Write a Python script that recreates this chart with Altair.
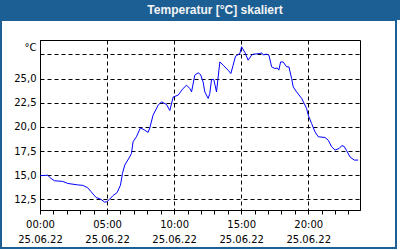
import altair as alt
import pandas as pd

title_text = "Temperatur [°C] skaliert"
unit_text = "°C"
date_text = "25.06.22"

hours = [0.0, 0.57, 0.82, 1.07, 1.69, 2.07, 2.81, 3.19, 3.56, 3.81,
         4.18, 4.55, 4.81, 4.98, 5.18, 5.45, 5.75, 6.0, 6.15, 6.32,
         6.69, 6.82, 6.94, 7.19, 7.49, 7.81, 8.06, 8.19, 8.43, 8.81,
         9.06, 9.43, 9.68, 9.93, 10.3, 10.67, 10.93, 11.17, 11.3, 11.54,
         11.79, 11.97, 12.16, 12.29, 12.54, 12.66, 12.79, 12.96, 13.16, 13.41,
         13.66, 14.03, 14.23, 14.4, 14.58, 14.9, 15.03, 15.28, 15.52, 15.78,
         15.9, 16.4, 16.53, 16.64, 16.9, 17.07, 17.27, 17.51, 17.69, 17.81,
         17.94, 18.13, 18.39, 18.56, 18.76, 18.88, 19.13, 19.51, 19.88, 20.0,
         20.25, 20.5, 20.75, 21.25, 21.49, 21.75, 22.0, 22.31, 22.49, 22.66,
         22.87, 23.11, 23.43, 23.73]
temps = [14.95, 15.0, 14.67, 14.43, 14.36, 14.15, 14.0, 13.95, 13.7, 13.29,
         12.7, 12.5, 12.22, 12.25, 12.5, 12.9, 13.2, 13.98, 15.19, 16.05,
         16.9, 17.26, 18.46, 18.98, 19.91, 19.67, 19.43, 19.91, 21.22, 22.25,
         22.6, 22.33, 21.7, 23.1, 23.29, 23.98, 24.32, 23.98, 23.63, 25.36,
         25.6, 25.43, 24.67, 23.63, 22.95, 23.46, 24.91, 24.91, 23.63, 26.73,
         26.39, 25.87, 25.53, 26.39, 27.32, 27.6, 28.3, 27.7, 26.91, 27.43,
         27.53, 27.6, 27.67, 27.46, 27.53, 27.43, 26.22, 26.05, 26.1, 25.88,
         26.73, 26.73, 26.22, 26.22, 25.02, 24.15, 23.63, 22.95, 21.91, 21.22,
         20.36, 19.5, 18.98, 18.91, 18.63, 17.94, 17.6, 17.78, 18.05, 18.01,
         17.53, 16.9, 16.57, 16.57]

x_label_hours = [0, 5, 10, 15, 20]
x_labels = ["00:00", "05:00", "10:00", "15:00", "20:00"]
x_tick_hours = list(range(0, 24))
y_ticks = [12.5, 15.0, 17.5, 20.0, 22.5, 25.0, 27.5]
y_labeled_max = 25.0
x_domain = [0, 23.86]
y_domain = [11.4, 29.0]

df = pd.DataFrame({"h": hours, "t": temps})
dummy = pd.DataFrame({"a": [0]})

FONT = "DejaVu Sans"
BLUE = "#1c5f95"

# label expression built from tick lists
expr = "''"
for hv, lab in reversed(list(zip(x_label_hours, x_labels))):
    expr = f"datum.value == {hv} ? ['{lab}', '{date_text}'] : ({expr})"

major_test = " || ".join(f"datum.value == {hv}" for hv in x_label_hours)

y_label_expr = (f"datum.value > {y_labeled_max} ? '' : "
                "replace(format(datum.value, '.1f'), '.', ',')")

line = alt.Chart(df).mark_line(color="#0000ff", strokeWidth=1).encode(
    x=alt.X("h:Q", scale=alt.Scale(domain=x_domain, nice=False, zero=False),
            axis=alt.Axis(values=x_tick_hours, title=None, labelExpr=expr,
                          grid=True,
                          gridOpacity={"condition": {"test": major_test, "value": 1}, "value": 0},
                          gridColor="black", gridDash=[4, 3], gridWidth=1,
                          tickSize=4, tickColor="black", domainColor="black",
                          labelFont=FONT, labelFontSize=10, labelColor="black",
                          labelPadding=5, labelLineHeight=15, labelFlush=False,
                          labelOverlap=False)),
    y=alt.Y("t:Q", scale=alt.Scale(domain=y_domain, nice=False, zero=False),
            axis=alt.Axis(values=y_ticks, title=unit_text, titleAngle=0,
                          titleX=-4, titleY=7, titleAlign="right",
                          titleBaseline="middle", titleFont=FONT,
                          titleFontSize=10, titleFontWeight="normal",
                          titleColor="black",
                          labelExpr=y_label_expr, ticks=False,
                          grid=True, gridColor="black", gridDash=[4, 3],
                          gridWidth=1, domainColor="black",
                          labelFont=FONT, labelFontSize=10, labelColor="black",
                          labelPadding=4)),
)

title_bar = alt.Chart(dummy).mark_rect(color=BLUE).encode(
    x=alt.value(-40), x2=alt.value(360), y=alt.value(-40), y2=alt.value(-20)
)
border = alt.Chart(dummy).mark_rect(fill=None, stroke=BLUE, strokeWidth=2).encode(
    x=alt.value(-39), x2=alt.value(356), y=alt.value(-20), y2=alt.value(208)
)
title = alt.Chart(dummy).mark_text(
    text=title_text, font="Liberation Sans", fontSize=12, fontWeight="bold",
    color="#f4f4f4", align="center", baseline="middle"
).encode(x=alt.value(175), y=alt.value(-30))

chart = alt.layer(title_bar, border, line, title).properties(
    width=320, height=170,
    autosize=alt.AutoSizeParams(type="none"),
    padding={"left": 40, "top": 40, "right": 40, "bottom": 40},
    background="white",
).configure_view(stroke="black", strokeWidth=1)

chart.save("out.html", embed_options={"renderer": "svg", "actions": False})
